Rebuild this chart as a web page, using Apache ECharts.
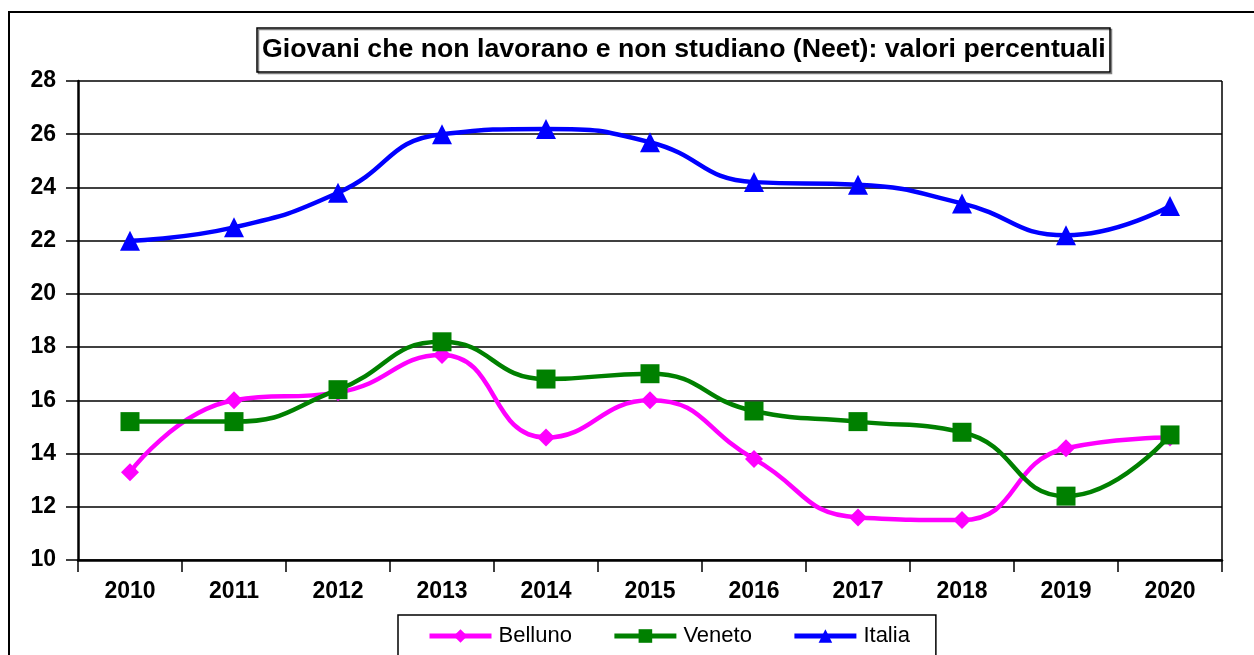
<!DOCTYPE html>
<html><head><meta charset="utf-8">
<script src="https://cdn.jsdelivr.net/npm/echarts@6/dist/echarts.min.js"></script>
<style>html,body{margin:0;padding:0;background:#fff}#c{width:1254px;height:655px}</style>
</head><body><div id="c"></div>
<script>
const years = ['2010','2011','2012','2013','2014','2015','2016','2017','2018','2019','2020'];
const belluno = [13.3, 16.0, 16.3, 17.7, 14.6, 16.0, 13.8, 11.6, 11.5, 14.2, 14.6];
const veneto  = [15.2, 15.2, 16.4, 18.2, 16.8, 17.0, 15.6, 15.2, 14.8, 12.4, 14.7];
const italia  = [22.0, 22.5, 23.8, 26.0, 26.2, 25.7, 24.2, 24.1, 23.4, 22.2, 23.3];
const titleText = 'Giovani che non lavorano e non studiano (Neet): valori percentuali';

const chart = echarts.init(document.getElementById('c'), null, {renderer:'canvas'});
const font = 'Liberation Sans, Arial, sans-serif';
function ser(name, data, color, symbol, size){
  return {name, type:'line', data, smooth:0.5, color,
    lineStyle:{width:4.5, color}, itemStyle:{color},
    symbol, symbolSize:size, showAllSymbol:true, animation:false};
}
chart.setOption({
  animation:false,
  backgroundColor:'#fff',
  graphic:[
    {type:'rect', shape:{x:9, y:12, width:1300, height:700}, style:{fill:null, stroke:'#000', lineWidth:2}, z:-1},
    {type:'rect', shape:{x:1222, y:81, width:0, height:479}, style:{stroke:'#000', lineWidth:1.5}}
  ],
  title:{text:titleText, left:257, top:28, padding:[8,4,9,5], borderColor:'#000', borderWidth:1.5,
    shadowColor:'rgba(0,0,0,0.5)', shadowOffsetX:1.5, shadowOffsetY:1.5,
    textStyle:{fontFamily:font, fontSize:26.7, fontWeight:'bold', color:'#000'}},
  legend:{data:['Belluno','Veneto','Italia'], left:398, top:615, padding:[10,26,20,29], itemGap:40,
    borderColor:'#000', borderWidth:1.5, itemWidth:62, itemHeight:17,
    lineStyle:{width:5},
    textStyle:{fontFamily:font, fontSize:22, color:'#000', padding:[0,0,0,2]}},
  grid:{left:78, right:32, top:81, bottom:95},
  xAxis:{type:'category', data:years, boundaryGap:true,
    axisLine:{lineStyle:{color:'#000', width:2.5}},
    axisTick:{show:true, length:12, lineStyle:{color:'#000', width:1.5}},
    axisLabel:{fontFamily:font, fontSize:23, fontWeight:'bold', color:'#000', margin:20}},
  yAxis:{type:'value', min:10, max:28, interval:2,
    axisLine:{show:true, lineStyle:{color:'#000', width:2.5}},
    axisTick:{show:true, length:12, lineStyle:{color:'#000', width:1.5}},
    splitLine:{lineStyle:{color:'#000', width:1.5}},
    axisLabel:{fontFamily:font, fontSize:23, fontWeight:'bold', color:'#000', margin:22}},
  series:[
    ser('Belluno', belluno, '#ff00ff', 'diamond', 18),
    ser('Veneto', veneto, '#008000', 'rect', 19),
    ser('Italia', italia, '#0000ff', 'triangle', 20)
  ]
});
</script></body></html>
